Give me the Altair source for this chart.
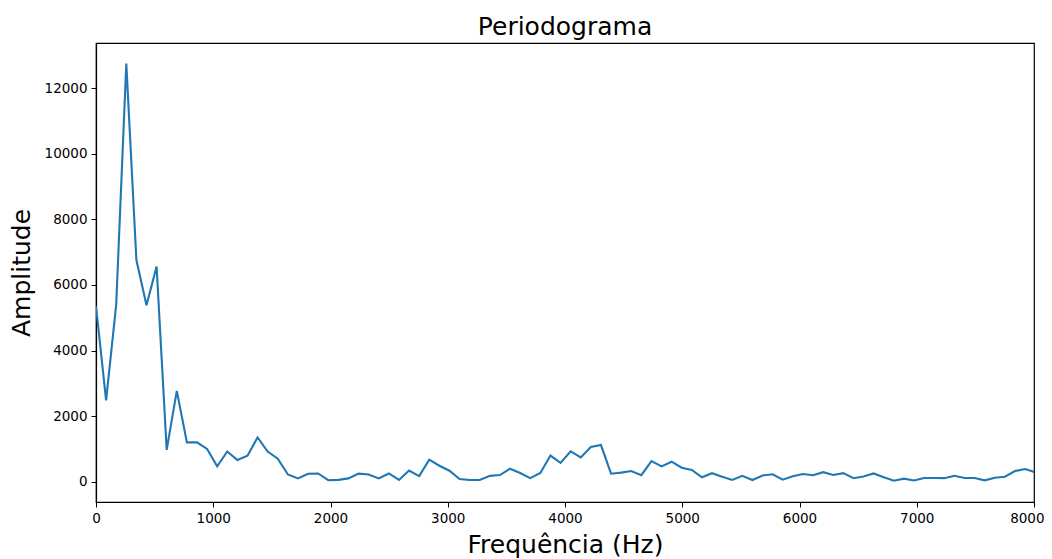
import altair as alt
import pandas as pd

# FFT bin resolution (44100 Hz / 512 samples)
sample_rate = 44100
n_fft = 512

amplitude = [
    5350, 2480, 5400, 12750, 6760, 5380, 6560, 970, 2770, 1200,
    1200, 1000, 470, 920, 660, 790, 1350, 920, 700, 220,
    100, 240, 250, 45, 55, 100, 245, 220, 100, 250,
    51, 340, 170, 670, 487, 335, 82, 51, 51, 178,
    203, 395, 265, 110, 264, 797, 574, 924, 741, 1056,
    1117, 244, 275, 325, 200, 625, 467, 609, 425, 360,
    132, 259, 152, 51, 178, 51, 190, 225, 61, 163,
    234, 198, 290, 203, 259, 107, 158, 250, 137, 30,
    92, 35, 112, 112, 107, 178, 112, 112, 40, 122,
    152, 325, 386, 290,
]
bins = list(range(len(amplitude)))
freqs = [b * sample_rate / n_fft for b in bins]

x_ticks = [0, 1000, 2000, 3000, 4000, 5000, 6000, 7000, 8000]
y_ticks = [0, 2000, 4000, 6000, 8000, 10000, 12000]

df = pd.DataFrame({"freq": freqs, "amp": amplitude})

FONT = "DejaVu Sans"

chart = (
    alt.Chart(df)
    .mark_line(color="#1f77b4", strokeWidth=2.1, clip=True)
    .encode(
        x=alt.X(
            "freq:Q",
            scale=alt.Scale(domain=[0, 8000], nice=False, zero=False),
            axis=alt.Axis(
                values=x_ticks,
                title="Frequência (Hz)",
                format="d",
                grid=False,
                labelFlush=False,
                labelAlign={"condition": {"test": "datum.value >= 8000", "value": "right"}, "value": "center"},
                labelOffset={"condition": {"test": "datum.value >= 8000", "value": 10}, "value": 0},
                labelFontSize=13.5,
                titleFontSize=25,
                titlePadding=8,
            ),
        ),
        y=alt.Y(
            "amp:Q",
            scale=alt.Scale(domain=[-620, 13380], nice=False, zero=False),
            axis=alt.Axis(
                values=y_ticks,
                title="Amplitude",
                format="d",
                grid=False,
                labelFlush=False,
                labelFontSize=13.5,
                titleFontSize=25,
                titlePadding=10,
            ),
        ),
    )
    .properties(
        width=938,
        height=459,
        title=alt.TitleParams(
            "Periodograma", fontSize=25, font=FONT, fontWeight="normal",
            color="black", offset=3,
        ),
        autosize=alt.AutoSizeParams(type="none"),
        padding={"left": 88, "top": 35, "right": 10, "bottom": 56},
    )
    .configure_view(stroke="black", strokeWidth=1.2)
    .configure_axis(
        labelFont=FONT,
        titleFont=FONT,
        labelColor="black",
        titleColor="black",
        titleFontWeight="normal",
        domainColor="black",
        domainWidth=1.2,
        tickColor="black",
        tickSize=5,
        tickWidth=1,
        labelPadding=4,
    )
)

chart.save("out.html", embed_options={"renderer": "svg", "actions": False})
